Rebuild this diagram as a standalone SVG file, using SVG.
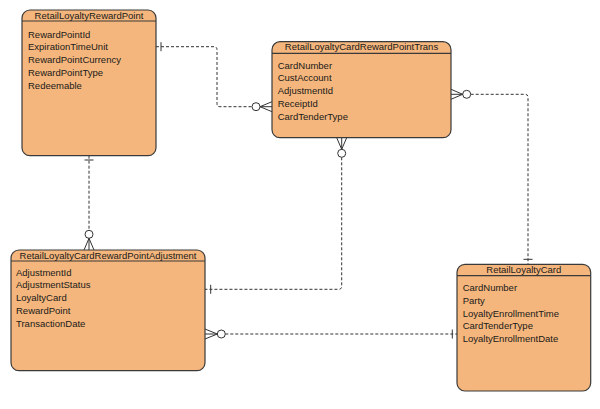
<svg xmlns="http://www.w3.org/2000/svg" width="600" height="409" viewBox="0 0 600 409">
<style>
.box{fill:#F4B67C;stroke:#3a3a3a;stroke-width:1.2}
.hd{stroke:#3a3a3a;stroke-width:1.2}
.t{font-family:"Liberation Sans",Arial,sans-serif;font-size:9.5px;fill:#1a1a1a}
.tc{text-anchor:middle}
.c{fill:none;stroke:#333;stroke-width:1;stroke-dasharray:3,2}
.m{fill:none;stroke:#333;stroke-width:1}
.o{fill:#fff;stroke:#333;stroke-width:1}
</style>
<rect width="600" height="409" fill="#fff"/>
<g id="connectors">
  <!-- RewardPoint -> Trans -->
  <path class="c" d="M156,46.7 H214 Q217,46.7 217,49.7 V103.7 Q217,106.7 220,106.7 H252"/>
  <line class="m" x1="161" y1="42.2" x2="161" y2="51.2"/>
  <circle class="o" cx="256" cy="106.7" r="4"/>
  <path class="m" d="M272,101.7 L260,106.7 L272,111.7 M260,106.7 H272"/>
  <!-- Trans -> RetailLoyaltyCard -->
  <path class="c" d="M470.7,94.3 H525 Q528,94.3 528,97.3 V264.3"/>
  <circle class="o" cx="466.7" cy="94.3" r="4"/>
  <path class="m" d="M451,89.3 L462.7,94.3 L451,99.3 M451,94.3 H462.7"/>
  <line class="m" x1="523.5" y1="259.3" x2="532.5" y2="259.3"/>
  <!-- Trans -> Adjustment -->
  <path class="c" d="M341.7,157.3 V286.3 Q341.7,289.3 338.7,289.3 H205"/>
  <circle class="o" cx="341.7" cy="153.3" r="4"/>
  <path class="m" d="M336.7,137.7 L341.7,149.3 L346.7,137.7 M341.7,137.7 V149.3"/>
  <line class="m" x1="210.7" y1="284.8" x2="210.7" y2="293.8"/>
  <!-- RewardPoint -> Adjustment -->
  <path class="c" d="M89,155.7 V230.3"/>
  <line class="m" x1="84.5" y1="160" x2="93.5" y2="160"/>
  <circle class="o" cx="89" cy="234.3" r="4"/>
  <path class="m" d="M84,250 L89,238.3 L94,250 M89,238.3 V250"/>
  <!-- Adjustment -> RetailLoyaltyCard -->
  <path class="c" d="M225.3,334 H457"/>
  <circle class="o" cx="221.3" cy="334" r="4"/>
  <path class="m" d="M205,329 L217.3,334 L205,339 M205,334 H217.3"/>
  <line class="m" x1="452.3" y1="329.5" x2="452.3" y2="338.5"/>
</g>
<g id="RetailLoyaltyRewardPoint">
  <rect class="box" x="22" y="10" width="134" height="145.7" rx="8"/>
  <line class="hd" x1="22" y1="21" x2="156" y2="21"/>
  <text class="t tc" x="89" y="19">RetailLoyaltyRewardPoint</text>
  <text class="t" x="28" y="37.5">RewardPointId</text>
  <text class="t" x="28" y="50.3">ExpirationTimeUnit</text>
  <text class="t" x="28" y="63.1">RewardPointCurrency</text>
  <text class="t" x="28" y="75.8">RewardPointType</text>
  <text class="t" x="28" y="88.5">Redeemable</text>
</g>
<g id="RetailLoyaltyCardRewardPointTrans">
  <rect class="box" x="272" y="41.7" width="179" height="96" rx="8"/>
  <line class="hd" x1="272" y1="53.3" x2="451" y2="53.3"/>
  <text class="t tc" x="361.5" y="50.3">RetailLoyaltyCardRewardPointTrans</text>
  <text class="t" x="277.7" y="68.5">CardNumber</text>
  <text class="t" x="277.7" y="81.3">CustAccount</text>
  <text class="t" x="277.7" y="94">AdjustmentId</text>
  <text class="t" x="277.7" y="106.8">ReceiptId</text>
  <text class="t" x="277.7" y="119.6">CardTenderType</text>
</g>
<g id="RetailLoyaltyCardRewardPointAdjustment">
  <rect class="box" x="11" y="250" width="194" height="120.7" rx="8"/>
  <line class="hd" x1="11" y1="261" x2="205" y2="261"/>
  <text class="t tc" x="108" y="259">RetailLoyaltyCardRewardPointAdjustment</text>
  <text class="t" x="16" y="275.5">AdjustmentId</text>
  <text class="t" x="16" y="288.3">AdjustmentStatus</text>
  <text class="t" x="16" y="301">LoyaltyCard</text>
  <text class="t" x="16" y="313.8">RewardPoint</text>
  <text class="t" x="16" y="326.5">TransactionDate</text>
</g>
<g id="RetailLoyaltyCard">
  <rect class="box" x="457" y="264.3" width="133.7" height="126.7" rx="8"/>
  <line class="hd" x1="457" y1="275.7" x2="590.7" y2="275.7"/>
  <text class="t tc" x="523.8" y="272.8">RetailLoyaltyCard</text>
  <text class="t" x="462.7" y="291">CardNumber</text>
  <text class="t" x="462.7" y="303.8">Party</text>
  <text class="t" x="462.7" y="316.6">LoyaltyEnrollmentTime</text>
  <text class="t" x="462.7" y="329.4">CardTenderType</text>
  <text class="t" x="462.7" y="342.2">LoyaltyEnrollmentDate</text>
</g>
</svg>
